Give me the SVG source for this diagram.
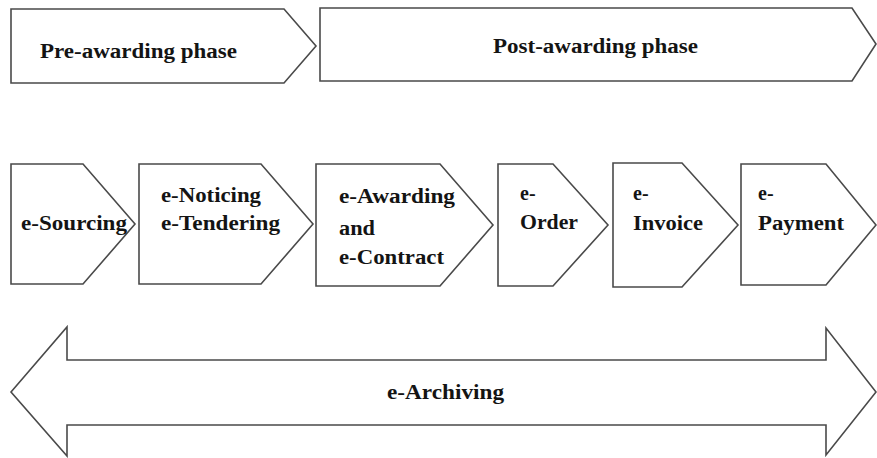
<svg xmlns="http://www.w3.org/2000/svg" width="877" height="458" viewBox="0 0 877 458">
  <style>
    .shape { fill: #ffffff; stroke: #4a4a4a; stroke-width: 1.6; stroke-linejoin: miter; }
    .label { font-family: "Liberation Serif", "Times New Roman", serif; font-weight: bold; font-size: 20px; fill: #141414; }
  </style>
  <rect width="877" height="458" fill="#ffffff"/>

  <!-- phase banners -->
  <g id="pre-awarding">
    <polygon class="shape" points="11,9 284,9 316,46 284,83 11,83"/>
    <text class="label" x="40" y="58" textLength="197" lengthAdjust="spacingAndGlyphs">Pre-awarding phase</text>
  </g>
  <g id="post-awarding">
    <polygon class="shape" points="320,8 852,8 876,44 852,81 320,81"/>
    <text class="label" x="493" y="53" textLength="205" lengthAdjust="spacingAndGlyphs">Post-awarding phase</text>
  </g>

  <!-- process steps -->
  <g id="e-sourcing">
    <polygon class="shape" points="11,164 83,164 135,224 83,284 11,284"/>
    <text class="label" x="21" y="230" textLength="106" lengthAdjust="spacingAndGlyphs">e-Sourcing</text>
  </g>
  <g id="e-noticing">
    <polygon class="shape" points="139,164 261,164 313,224 261,284 139,284"/>
    <text class="label" x="161" y="202" textLength="100" lengthAdjust="spacingAndGlyphs">e-Noticing</text>
    <text class="label" x="161" y="230" textLength="119" lengthAdjust="spacingAndGlyphs">e-Tendering</text>
  </g>
  <g id="e-awarding">
    <polygon class="shape" points="316,164 440,164 493,225 440,286 316,286"/>
    <text class="label" x="339" y="203" textLength="116" lengthAdjust="spacingAndGlyphs">e-Awarding</text>
    <text class="label" x="339" y="235" textLength="36" lengthAdjust="spacingAndGlyphs">and</text>
    <text class="label" x="339" y="264" textLength="105" lengthAdjust="spacingAndGlyphs">e-Contract</text>
  </g>
  <g id="e-order">
    <polygon class="shape" points="498,164 553,164 608,225 553,286 498,286"/>
    <text class="label" x="520" y="200">e-</text>
    <text class="label" x="520" y="229" textLength="58" lengthAdjust="spacingAndGlyphs">Order</text>
  </g>
  <g id="e-invoice">
    <polygon class="shape" points="613,163 682,163 738,225 682,287 613,287"/>
    <text class="label" x="633" y="200">e-</text>
    <text class="label" x="633" y="230" textLength="70" lengthAdjust="spacingAndGlyphs">Invoice</text>
  </g>
  <g id="e-payment">
    <polygon class="shape" points="741,164 826,164 876,225 826,285 741,285"/>
    <text class="label" x="758" y="200">e-</text>
    <text class="label" x="758" y="230" textLength="86" lengthAdjust="spacingAndGlyphs">Payment</text>
  </g>

  <!-- archiving band spanning the whole process -->
  <g id="e-archiving">
    <polygon class="shape" points="11,392 67,327 67,360 826,360 826,328 876,392 826,455 826,425 67,425 67,456"/>
    <text class="label" x="387" y="399" textLength="117" lengthAdjust="spacingAndGlyphs">e-Archiving</text>
  </g>

  <g id="connectors"></g>
</svg>
